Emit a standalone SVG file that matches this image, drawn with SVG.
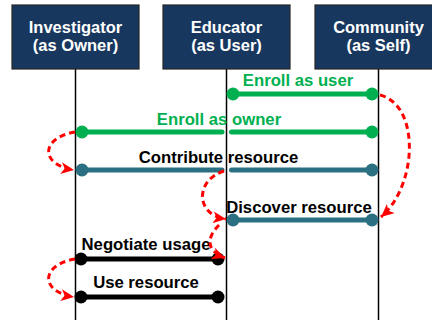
<svg xmlns="http://www.w3.org/2000/svg" width="432" height="320" viewBox="0 0 432 320">
  <style>
    .box { fill: #17375e; stroke: #262626; stroke-width: 1.2; }
    .title { font-family: "Liberation Sans", Arial, sans-serif; font-weight: bold; font-size: 16.5px; fill: #ffffff; text-anchor: middle; }
    .life { stroke: #000000; stroke-width: 1.5; fill: none; }
    .lbl { font-family: "Liberation Sans", Arial, sans-serif; font-weight: bold; font-size: 16.7px; text-anchor: middle; }
    .msg { stroke-width: 5; stroke-linecap: round; fill: none; }
    .green { stroke: #00b050; }
    .teal { stroke: #2b6f82; }
    .black { stroke: #000000; }
    .dg { fill: #00b050; }
    .dt { fill: #2b6f82; }
    .db { fill: #000000; }
    .flow { stroke: #ff0000; stroke-width: 3; stroke-dasharray: 6 4; fill: none; marker-end: url(#arrowRed); }
  </style>
  <defs>
    <marker id="arrowRed" markerUnits="userSpaceOnUse" markerWidth="14" markerHeight="12" refX="13" refY="6" orient="auto">
      <path d="M0,0 L13,6 L0,12 L3.5,6 z" fill="#ff0000"/>
    </marker>
  </defs>

  <rect width="432" height="320" fill="#ffffff"/>

  <!-- lifelines -->
  <g id="lifelines">
    <line class="life" x1="75.5" y1="69" x2="75.5" y2="320"/>
    <line class="life" x1="226.5" y1="69" x2="226.5" y2="320"/>
    <line class="life" x1="378.5" y1="69" x2="378.5" y2="320"/>
  </g>

  <g id="investigator">
    <rect class="box" x="12" y="5" width="127" height="64"/>
    <text class="title" x="75.5" y="33">Investigator</text>
    <text class="title" x="75.5" y="51">(as Owner)</text>
  </g>
  <g id="educator">
    <rect class="box" x="163" y="5" width="127" height="64"/>
    <text class="title" x="226.5" y="33">Educator</text>
    <text class="title" x="226.5" y="51">(as User)</text>
  </g>
  <g id="community">
    <rect class="box" x="315" y="5" width="127" height="64"/>
    <text class="title" x="378.5" y="33">Community</text>
    <text class="title" x="378.5" y="51">(as Self)</text>
  </g>

  <!-- messages -->
  <g id="connectors">
    <g id="enroll-user">
      <line class="msg green" x1="233" y1="94" x2="372" y2="94"/>
      <circle class="dg" cx="233" cy="94" r="6.5"/>
      <circle class="dg" cx="372" cy="94" r="6.5"/>
      <text class="lbl" x="298" y="86" fill="#00b050">Enroll as user</text>
    </g>
    <g id="enroll-owner">
      <line class="msg green" x1="82" y1="132" x2="222" y2="132"/>
      <line class="msg green" x1="231.5" y1="132" x2="372" y2="132"/>
      <circle class="dg" cx="82" cy="132" r="6.5"/>
      <circle class="dg" cx="372" cy="132" r="6.5"/>
      <text class="lbl" x="219" y="125" fill="#00b050">Enroll as owner</text>
    </g>
    <g id="contribute">
      <line class="msg teal" x1="82" y1="170" x2="222" y2="170"/>
      <line class="msg teal" x1="231.5" y1="170" x2="372" y2="170"/>
      <circle class="dt" cx="82" cy="170" r="6.5"/>
      <circle class="dt" cx="372" cy="170" r="6.5"/>
      <text class="lbl" x="218.5" y="163" fill="#000000">Contribute resource</text>
    </g>
    <g id="discover">
      <line class="msg teal" x1="233" y1="220" x2="372" y2="220"/>
      <circle class="dt" cx="233" cy="220" r="6.5"/>
      <circle class="dt" cx="372" cy="220" r="6.5"/>
      <text class="lbl" x="299" y="213" fill="#000000">Discover resource</text>
    </g>
    <g id="negotiate">
      <line class="msg black" x1="81" y1="259" x2="218" y2="259"/>
      <circle class="db" cx="81" cy="259" r="6.5"/>
      <circle class="db" cx="218" cy="259" r="6.5"/>
      <text class="lbl" x="146" y="250" fill="#000000">Negotiate usage</text>
    </g>
    <g id="use">
      <line class="msg black" x1="81" y1="297" x2="218" y2="297"/>
      <circle class="db" cx="81" cy="297" r="6.5"/>
      <circle class="db" cx="218" cy="297" r="6.5"/>
      <text class="lbl" x="146" y="288" fill="#000000">Use resource</text>
    </g>

    <!-- sequence flow between steps -->
    <path class="flow" d="M380,95 C420,105 418,185 381,217"/>
    <path class="flow" d="M75,132 C40,138 40,165 74,170"/>
    <path class="flow" d="M224,171 C195,180 195,215 226,219"/>
    <path class="flow" d="M219,225 C208,236 204,250 225,258"/>
    <path class="flow" d="M75,259 C40,265 40,292 74,297"/>
  </g>
</svg>
